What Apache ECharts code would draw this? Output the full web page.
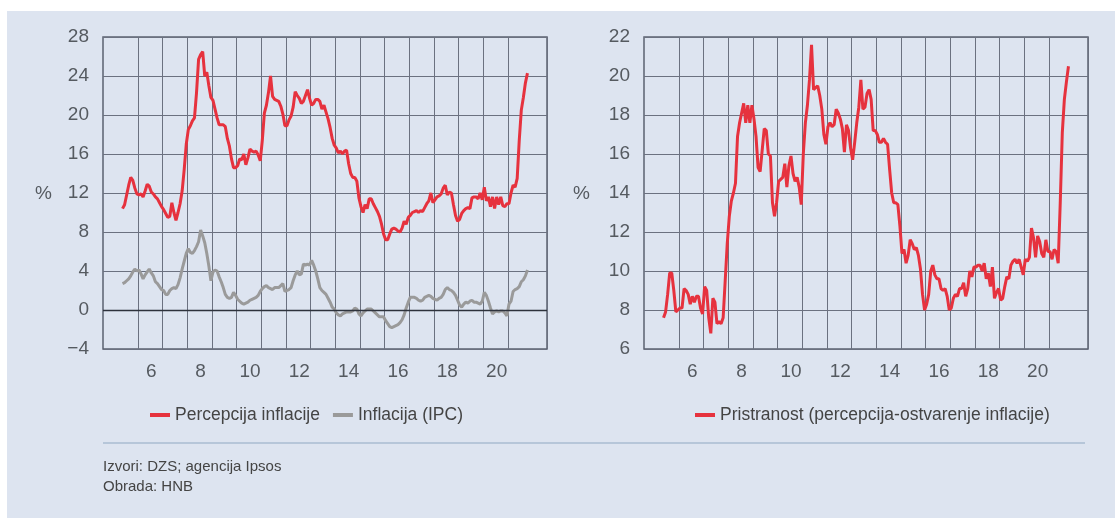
<!DOCTYPE html>
<html>
<head>
<meta charset="utf-8">
<title>Percepcija inflacije</title>
<script src="https://cdn.jsdelivr.net/npm/echarts@6.0.0/dist/echarts.min.js"></script>
<style>
  html, body { margin: 0; padding: 0; background: #fff; }
  #chart { width: 1115px; height: 518px; }
</style>
</head>
<body>
<div id="chart"></div>
<script>
// monthly values, May 2005 - Oct 2021 (one row per year)
const perception = [
  10.4, 10.8, 11.8, 12.8, 13.6, 13.3, 12.5, 11.9,
  11.8, 11.9, 11.6, 12.2, 12.9, 12.7, 12.1, 11.9, 11.6, 11.4, 11.0, 10.6,
  10.3, 9.9, 9.5, 9.6, 11.0, 10.0, 9.2, 10.0, 10.9, 12.2, 14.4, 17.0,
  18.5, 18.9, 19.4, 19.7, 22.3, 25.7, 26.2, 26.5, 24.0, 24.4, 23.0, 21.8,
  21.5, 20.6, 19.7, 19.0, 19.0, 19.0, 18.8, 17.6, 16.8, 15.5, 14.6, 14.6,
  14.8, 15.5, 15.4, 16.0, 14.9, 15.6, 16.5, 16.3, 16.2, 16.3, 15.9, 15.3,
  17.4, 20.2, 21.0, 22.3, 24.0, 21.9, 21.6, 21.5, 21.4, 20.9, 20.1, 18.9,
  18.9, 19.5, 19.9, 20.8, 22.4, 22.0, 21.7, 21.2, 21.4, 22.0, 22.6, 21.7,
  21.0, 21.2, 21.6, 21.6, 21.4, 20.6, 21.0, 20.3, 19.6, 18.7, 17.6, 16.9,
  16.6, 16.1, 16.3, 16.0, 16.3, 16.4, 15.0, 14.0, 13.6, 13.6, 13.2, 11.5,
  10.6, 10.0, 10.8, 10.4, 11.4, 11.4, 10.9, 10.5, 10.1, 9.6, 8.8, 7.8,
  7.2, 7.2, 7.8, 8.3, 8.4, 8.3, 8.1, 8.0, 8.4, 9.1, 8.8, 9.5,
  9.7, 10.0, 10.1, 10.2, 10.0, 10.2, 10.1, 10.5, 10.9, 11.2, 12.0, 11.0,
  11.3, 11.6, 11.7, 11.9, 12.5, 12.8, 11.8, 12.1, 12.0, 10.8, 9.7, 9.1,
  9.3, 9.9, 10.2, 10.4, 10.5, 10.4, 11.5, 11.6, 11.6, 11.4, 12.0, 11.3,
  12.6, 11.2, 11.6, 10.6, 11.6, 10.4, 11.6, 10.8, 11.6, 10.7, 10.6, 10.9,
  10.9, 12.0, 12.8, 12.6, 13.5, 17.4, 20.5, 21.8, 23.3, 24.3
];

const inflation = [
  2.7, 2.8, 3.0, 3.2, 3.5, 3.9, 4.2, 4.0,
  4.1, 3.7, 3.2, 3.6, 3.9, 4.2, 3.8, 3.5, 2.9, 2.7, 2.4, 2.1,
  2.0, 1.6, 1.6, 2.0, 2.2, 2.3, 2.2, 2.6, 3.3, 4.2, 5.0, 5.8,
  6.3, 5.9, 5.8, 6.1, 6.5, 7.0, 8.2, 7.6, 6.9, 5.8, 4.5, 3.0,
  3.9, 4.1, 4.0, 3.4, 2.9, 2.3, 1.6, 1.3, 1.2, 1.3, 1.8, 1.5,
  1.1, 0.9, 0.7, 0.6, 0.7, 0.8, 1.0, 1.1, 1.2, 1.3, 1.5, 1.9,
  2.2, 2.4, 2.5, 2.3, 2.2, 2.1, 2.3, 2.3, 2.3, 2.5, 2.7, 1.9,
  2.0, 2.1, 2.3, 3.0, 3.6, 4.0, 3.6, 3.7, 4.7, 4.6, 4.7, 4.6,
  5.1, 4.6, 4.0, 3.2, 2.3, 2.0, 1.8, 1.6, 1.2, 0.8, 0.3, 0.1,
  -0.3, -0.5, -0.6, -0.4, -0.3, -0.2, -0.2, -0.2, -0.1, 0.2, 0.1, -0.4,
  -0.6, -0.3, -0.1, 0.1, 0.1, 0.1, -0.1, -0.3, -0.5, -0.7, -0.7, -0.7,
  -1.1, -1.4, -1.7, -1.8, -1.7, -1.6, -1.5, -1.3, -1.0, -0.5, 0.2, 0.8,
  1.3, 1.3, 1.3, 1.2, 1.0, 0.9, 1.0, 1.3, 1.4, 1.5, 1.4, 1.2,
  1.1, 1.0, 1.2, 1.3, 1.6, 2.1, 2.3, 2.1, 2.0, 1.8, 1.5, 1.0,
  0.5, 0.3, 0.6, 0.8, 0.7, 0.9, 1.0, 0.8, 0.8, 0.7, 0.6, 0.9,
  1.8, 1.5, 0.9, 0.2, -0.4, -0.2, -0.1, -0.2, -0.1, -0.1, -0.3, -0.6,
  0.6, 0.9, 1.9, 2.1, 2.2, 2.4, 2.9, 3.1, 3.5, 4.1
];

const bias = [
  7.6, 7.9, 8.8, 9.9, 9.9, 9.0, 7.9, 8.0,
  8.1, 8.1, 9.1, 9.0, 8.8, 8.3, 8.7, 8.4, 8.7, 8.7, 8.1, 7.8,
  9.2, 9.0, 7.6, 6.8, 8.6, 8.4, 7.3, 7.4, 7.3, 7.6, 9.5, 11.4,
  12.8, 13.6, 14.0, 14.5, 16.9, 17.6, 18.1, 18.6, 17.6, 18.5, 17.6, 18.5,
  17.8, 16.9, 15.3, 15.1, 16.2, 17.3, 17.2, 16.0, 15.9, 13.5, 12.8, 13.5,
  14.6, 14.7, 14.8, 15.5, 14.3, 15.4, 15.9, 15.0, 14.6, 14.8, 14.3, 13.4,
  16.0, 17.6, 18.5, 19.8, 21.6, 19.3, 19.4, 19.5, 19.0, 18.3, 17.0, 16.5,
  17.4, 17.6, 17.4, 17.5, 18.3, 18.1, 17.8, 17.3, 16.1, 17.5, 17.2, 16.3,
  15.7, 16.6, 17.6, 18.4, 19.8, 18.3, 18.4, 19.1, 19.3, 18.8, 17.2, 17.2,
  17.0, 16.6, 16.6, 16.8, 16.6, 16.5, 15.2, 14.0, 13.5, 13.5, 13.4, 12.3,
  10.9, 11.1, 10.4, 10.8, 11.6, 11.4, 11.1, 11.2, 10.8, 10.1, 8.8, 8.0,
  8.3, 8.8, 10.0, 10.3, 9.8, 9.6, 9.6, 9.1, 9.0, 9.1, 8.7, 8.0,
  8.1, 8.6, 8.8, 8.7, 9.1, 9.1, 9.4, 8.7, 9.1, 10.0, 9.7, 10.2,
  10.2, 10.3, 10.3, 10.0, 10.4, 9.6, 9.9, 9.2, 10.2, 8.6, 8.9, 9.1,
  8.5, 8.6, 9.2, 9.7, 9.6, 10.3, 10.5, 10.6, 10.4, 10.6, 10.2, 9.8,
  10.6, 10.5, 10.7, 12.2, 11.7, 10.7, 11.8, 11.5, 10.9, 10.7, 11.6, 11.0,
  11.0, 10.6, 11.1, 11.0, 10.4, 13.5, 17.1, 18.8, 19.7, 20.5
];

const firstMonth = '2005-05';
// x axis runs Aug 2004 - Jul 2022, one category per month
const axisStart = [2004, 8];
const axisMonths = 216;
const yearLabels = [6, 8, 10, 12, 14, 16, 18, 20];
const gridYears = [2006, 2021];   // january gridlines from..to

const RED = '#e6323e';
const GREY = '#9a9a9a';
const GRIDLINE = '#6b7180';
const TEXT = '#555a60';

const months = [];
for (let i = 0; i < axisMonths; i++) {
  const m = axisStart[1] - 1 + i;
  const y = axisStart[0] + Math.floor(m / 12);
  months.push(y + '-' + String(m % 12 + 1).padStart(2, '0'));
}
const offset = months.indexOf(firstMonth);

function pad(arr) {
  const out = new Array(axisMonths).fill(null);
  arr.forEach((v, i) => { out[offset + i] = v; });
  return out;
}

function xAxisFor(gridIndex) {
  return {
    type: 'category',
    gridIndex,
    data: months,
    boundaryGap: true,
    axisLine: { show: false },
    axisTick: { show: false },
    axisLabel: {
      interval: (i, v) => v.endsWith('-07') && yearLabels.includes(+v.slice(0, 4) - 2000),
      formatter: v => String(+v.slice(0, 4) - 2000),
      color: TEXT,
      fontFamily: 'Liberation Sans',
      fontSize: 19,
      margin: 13
    },
    splitLine: {
      show: true,
      interval: (i, v) => {
        const y = +v.slice(0, 4);
        return v.endsWith('-01') && y >= gridYears[0] && y <= gridYears[1];
      },
      lineStyle: { color: GRIDLINE, width: 1 }
    }
  };
}

function yAxisFor(gridIndex, min, max, interval) {
  return {
    type: 'value',
    gridIndex,
    min, max, interval,
    axisLine: { show: false },
    axisTick: { show: false },
    axisLabel: {
      color: TEXT,
      fontFamily: 'Liberation Sans',
      fontSize: 19,
      margin: 14,
      formatter: v => (v < 0 ? '\u2212' + Math.abs(v) : String(v))
    },
    splitLine: { lineStyle: { color: GRIDLINE, width: 1 } }
  };
}

const legendText = { color: '#444', fontFamily: 'Liberation Sans', fontSize: 17.5 };
const footFont = '15px "Liberation Sans"';

const chart = echarts.init(document.getElementById('chart'));

chart.setOption({
  backgroundColor: '#dde4f0',
  animation: false,
  grid: [
    { left: 103, top: 37, width: 444, height: 312, show: true, borderColor: '#5b6170', borderWidth: 1.5, backgroundColor: 'transparent' },
    { left: 644, top: 37, width: 444, height: 312, show: true, borderColor: '#5b6170', borderWidth: 1.5, backgroundColor: 'transparent' }
  ],
  xAxis: [xAxisFor(0), xAxisFor(1)],
  yAxis: [yAxisFor(0, -4, 28, 4), yAxisFor(1, 6, 22, 2)],
  legend: [
    {
      data: ['Percepcija inflacije', 'Inflacija (IPC)'],
      left: 145, top: 401,
      icon: 'rect', itemWidth: 20, itemHeight: 4, itemGap: 13,
      textStyle: legendText
    },
    {
      data: ['Pristranost (percepcija-ostvarenje inflacije)'],
      left: 690, top: 401,
      icon: 'rect', itemWidth: 20, itemHeight: 4,
      textStyle: legendText
    }
  ],
  graphic: [
    { type: 'rect', shape: { x: 0, y: 0, width: 1115, height: 11 }, style: { fill: '#fff' } },
    { type: 'rect', shape: { x: 0, y: 0, width: 7, height: 518 }, style: { fill: '#fff' } },
    { type: 'text', left: 35, top: 184, style: { text: '%', font: '19px "Liberation Sans"', fill: TEXT } },
    { type: 'text', left: 573, top: 184, style: { text: '%', font: '19px "Liberation Sans"', fill: TEXT } },
    { type: 'line', shape: { x1: 103, y1: 443, x2: 1085, y2: 443 }, style: { stroke: '#a9bdd2', lineWidth: 1.5 } },
    { type: 'text', left: 103, top: 459, style: { text: 'Izvori: DZS; agencija Ipsos', font: footFont, fill: '#444' } },
    { type: 'text', left: 103, top: 479, style: { text: 'Obrada: HNB', font: footFont, fill: '#444' } }
  ],
  series: [
    {
      name: 'Inflacija (IPC)',
      type: 'line',
      xAxisIndex: 0, yAxisIndex: 0,
      data: pad(inflation),
      showSymbol: false,
      color: GREY,
      lineStyle: { width: 3, color: GREY },
      markLine: {
        silent: true,
        symbol: 'none',
        label: { show: false },
        lineStyle: { color: '#2d323c', width: 1.4, type: 'solid' },
        data: [{ yAxis: 0 }]
      },
      z: 2
    },
    {
      name: 'Percepcija inflacije',
      type: 'line',
      xAxisIndex: 0, yAxisIndex: 0,
      data: pad(perception),
      showSymbol: false,
      color: RED,
      lineStyle: { width: 3, color: RED },
      z: 3
    },
    {
      name: 'Pristranost (percepcija-ostvarenje inflacije)',
      type: 'line',
      xAxisIndex: 1, yAxisIndex: 1,
      data: pad(bias),
      showSymbol: false,
      color: RED,
      lineStyle: { width: 3, color: RED }
    }
  ]
});
</script>
</body>
</html>
